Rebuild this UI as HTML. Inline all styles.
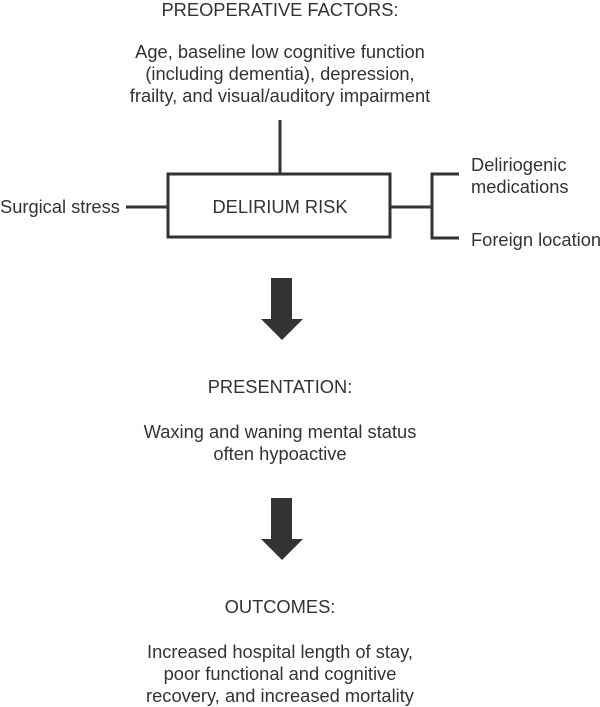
<!DOCTYPE html>
<html><head><style>
body{margin:0;background:#fff;width:600px;height:706px;position:relative;overflow:hidden;font-family:"Liberation Sans",Arial,sans-serif;color:#333;font-size:18.3px}
.t{position:absolute;white-space:nowrap;line-height:22px}
.c{left:30px;width:500px;text-align:center}
</style></head><body>
<svg width="600" height="706" style="position:absolute;left:0;top:0" fill="none" stroke="#333" stroke-width="3">
<line x1="280" y1="120" x2="280" y2="173"/>
<rect x="168" y="174" width="222" height="63"/>
<line x1="126" y1="207" x2="168" y2="207"/>
<line x1="390" y1="207" x2="432" y2="207"/>
<polyline points="459,174 432,174 432,238 459,238"/>
<polygon points="271,278 292,278 292,319 303,319 282,340 261,319 271,319" fill="#333" stroke="none"/>
<polygon points="271,498 292,498 292,539 303,539 282,560 261,539 271,539" fill="#333" stroke="none"/>
</svg>
<div class="t c" style="top:-1px">PREOPERATIVE FACTORS:</div>
<div class="t c" style="top:41px">Age, baseline low cognitive function<br>(including dementia), depression,<br>frailty, and visual/auditory impairment</div>
<div class="t" style="left:0;top:196px">Surgical stress</div>
<div class="t" style="left:170px;width:220px;text-align:center;top:196px">DELIRIUM RISK</div>
<div class="t" style="left:471px;top:154px">Deliriogenic<br>medications</div>
<div class="t" style="left:471px;top:229px">Foreign location</div>
<div class="t c" style="top:376px">PRESENTATION:</div>
<div class="t c" style="top:421px">Waxing and waning mental status<br>often hypoactive</div>
<div class="t c" style="top:596px">OUTCOMES:</div>
<div class="t c" style="top:641px">Increased hospital length of stay,<br>poor functional and cognitive<br>recovery, and increased mortality</div>
</body></html>
